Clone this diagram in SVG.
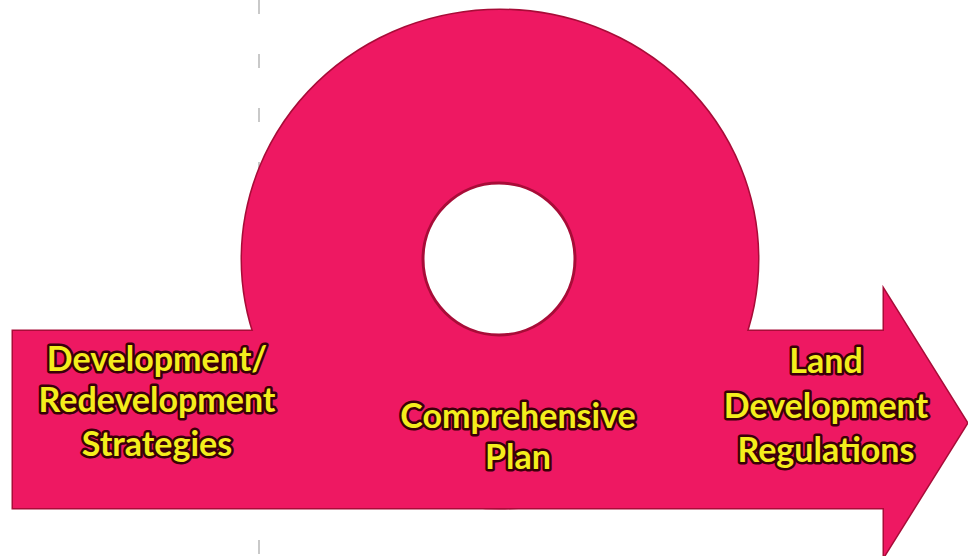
<svg xmlns="http://www.w3.org/2000/svg" width="968" height="556" viewBox="0 0 968 556">
<style>
.sh{fill:#ee1862;}
.edge{fill:none;stroke:#a80c38;stroke-width:3;}
.lbl{font-family:Lato,"Liberation Sans",sans-serif;font-weight:bold;font-size:34px;fill:#f4ee1c;stroke:#3a0008;stroke-width:5;stroke-linejoin:round;paint-order:stroke;text-anchor:middle;}
</style>
<rect width="968" height="556" fill="#ffffff"/>
<line x1="259" y1="0" x2="259" y2="556" stroke="#b8b8b8" stroke-width="1.5" stroke-dasharray="14 40"/>
<g id="shape">
<ellipse class="edge" cx="500" cy="259" rx="258" ry="249"/>
<polygon class="edge" points="13,331 884,331 884,290 967,423 884,556 884,508 13,508"/>
<ellipse class="sh" cx="500" cy="259" rx="258" ry="249"/>
<polygon class="sh" points="13,331 884,331 884,290 967,423 884,556 884,508 13,508"/>
<circle cx="499" cy="259" r="76" fill="#ffffff" stroke="#a80c38" stroke-width="3"/>
</g>
<g id="node-strategies">
<text class="lbl" x="157" y="371">Development/</text>
<text class="lbl" x="157" y="412">Redevelopment</text>
<text class="lbl" x="157" y="456">Strategies</text>
</g>
<g id="node-plan">
<text class="lbl" x="518" y="428">Comprehensive</text>
<text class="lbl" x="518" y="469">Plan</text>
</g>
<g id="node-regulations">
<text class="lbl" x="826" y="373">Land</text>
<text class="lbl" x="826" y="418">Development</text>
<text class="lbl" x="826" y="462">Regulations</text>
</g>
<g id="connectors"></g>
</svg>
